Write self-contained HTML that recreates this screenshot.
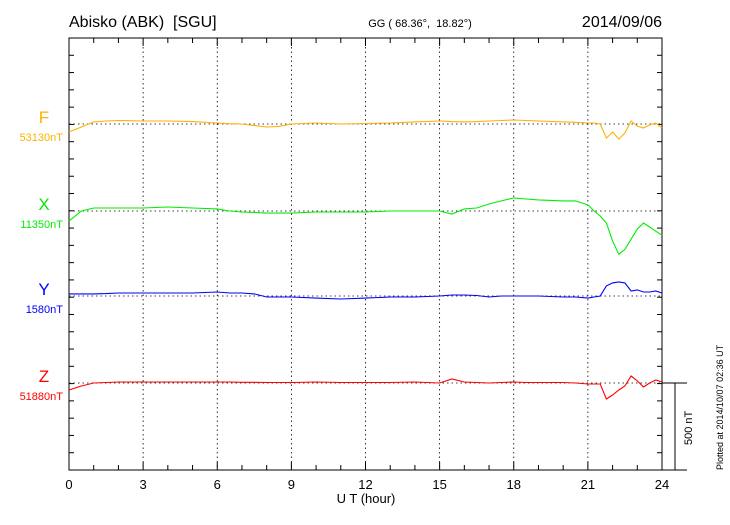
<!DOCTYPE html>
<html><head><meta charset="utf-8"><style>
body{margin:0;background:#fff}
svg text{font-family:"Liberation Sans",sans-serif}
</style></head><body>
<svg id="c" width="730" height="520" xmlns="http://www.w3.org/2000/svg">
<rect width="730" height="520" fill="#fff"/>
<text x="69" y="27" font-size="16">Abisko (ABK)&#160; [SGU]</text>
<text x="420" y="27" font-size="11" text-anchor="middle">GG ( 68.36°,&#160; 18.82°)</text>
<text x="662" y="27" font-size="16" text-anchor="end">2014/09/06</text>
<text x="366" y="503" font-size="13" text-anchor="middle">U T (hour)</text>
<text transform="translate(723,470) rotate(-90)" font-size="9">Plotted at 2014/10/07 02:36 UT</text>
<g id="g"></g>
</svg>
<script>
const times=[0,0.5,1,1.5,2,3,4,5,6,6.5,7,7.5,8,8.5,9,10,11,12,13,14,15,15.5,16,16.5,17,17.5,18,18.5,19,20,20.5,21,21.25,21.5,21.75,22,22.25,22.5,22.75,23,23.25,23.5,23.75,24];
const fVals=[-46,-17,12,17,20,17,17,14,6,2,0,-9,-17,-14,0,6,0,3,6,12,17,14,12,14,17,20,23,20,17,12,10,6,6,0,-81,-46,-87,-52,17,-12,-23,-6,6,-23];
const xVals=[-58,0,17,17,17,17,23,17,12,0,-6,-8,-12,-12,-12,-6,-6,-6,0,0,0,-17,12,17,40,58,75,69,64,58,58,35,0,-29,-69,-173,-249,-220,-162,-104,-69,-92,-116,-139];
const yVals=[12,12,12,14,17,17,17,17,23,17,17,12,-6,-6,-6,-12,-17,-12,-6,-6,0,6,6,3,-6,0,0,0,0,-6,-6,-12,-6,0,58,75,81,75,29,35,23,23,29,17];
const zVals=[-40,-17,0,3,6,6,6,6,6,6,4,4,3,3,3,6,3,3,3,6,0,23,6,3,0,3,6,3,3,3,0,-6,-6,-6,-92,-69,-40,-17,40,12,-23,0,17,6];
const series=[
 {n:'F',base:124,vals:fVals,col:'#ffb000',lab:'53130nT'},
 {n:'X',base:211,vals:xVals,col:'#00ee00',lab:'11350nT'},
 {n:'Y',base:296,vals:yVals,col:'#0000ff',lab:'1580nT'},
 {n:'Z',base:383,vals:zVals,col:'#ff0000',lab:'51880nT'}];
const L=69,R=662,T=38,B=470,NT=87/500;
const xs=h=>L+h*(R-L)/24;
const g=document.getElementById('g');
function el(t,a,txt){const e=document.createElementNS('http://www.w3.org/2000/svg',t);for(const k in a)e.setAttribute(k,a[k]);if(txt!=null)e.textContent=txt;g.appendChild(e);return e;}
for(let h=3;h<24;h+=3){const e=el('line',{x1:xs(h),x2:xs(h),y1:T,y2:B,stroke:'#000','stroke-width':0.8,'stroke-dasharray':'1.5,3'});

}
series.forEach(s=>{const e=el('line',{x1:L,x2:R,y1:s.base,y2:s.base,stroke:'#000','stroke-width':0.8,'stroke-dasharray':'1.5,3'});

});
const fr=el('rect',{x:L,y:T,width:R-L,height:B-T,fill:'none',stroke:'#000','stroke-width':1});


for(let i=1;i<25;i++){const y=B-i*(B-T)/25;
el('line',{x1:L,x2:L+5,y1:y,y2:y,stroke:'#000'});el('line',{x1:R-5,x2:R,y1:y,y2:y,stroke:'#000'});}
for(let h=1;h<24;h++){const len=h%3?5:8;
el('line',{x1:xs(h),x2:xs(h),y1:T,y2:T+len,stroke:'#000'});el('line',{x1:xs(h),x2:xs(h),y1:B-len,y2:B,stroke:'#000'});}
for(let h=0;h<=24;h+=3){const t=el('text',{x:xs(h),y:489,'font-size':13,'text-anchor':'middle'},String(h));

}
el('line',{x1:R,x2:687,y1:383,y2:383,stroke:'#000'});
el('line',{x1:675,x2:675,y1:383,y2:B,stroke:'#000'});
el('line',{x1:R,x2:687,y1:B,y2:B,stroke:'#000'});
const sb=el('text',{transform:'translate(692,445) rotate(-90)','font-size':11},'500 nT');


series.forEach(s=>{
 const d=s.vals.map((v,i)=>(i?'L':'M')+xs(times[i]).toFixed(1)+','+(s.base-v*NT).toFixed(1)).join('');
 const p=el('path',{d:d,fill:'none',stroke:s.col,'stroke-width':1.1});
 
 
 const a=el('text',{x:44,y:s.base-1,'font-size':17,fill:s.col,'text-anchor':'middle'},s.n);
 
 
 const b=el('text',{x:63,y:s.base+17,'font-size':11,fill:s.col,'text-anchor':'end'},s.lab);
 
 
});
</script>
</body></html>
